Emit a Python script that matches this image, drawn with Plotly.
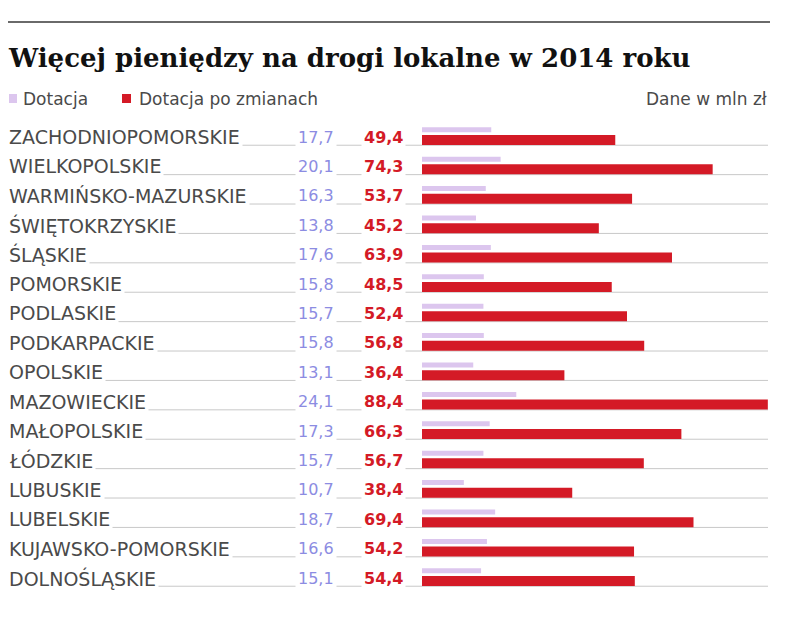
import plotly.graph_objects as go

# Województwa, values in mln zł
regions = [
    "ZACHODNIOPOMORSKIE", "WIELKOPOLSKIE", "WARMIŃSKO-MAZURSKIE", "ŚWIĘTOKRZYSKIE",
    "ŚLĄSKIE", "POMORSKIE", "PODLASKIE", "PODKARPACKIE", "OPOLSKIE", "MAZOWIECKIE",
    "MAŁOPOLSKIE", "ŁÓDZKIE", "LUBUSKIE", "LUBELSKIE", "KUJAWSKO-POMORSKIE", "DOLNOŚLĄSKIE",
]
dotacja = [17.7, 20.1, 16.3, 13.8, 17.6, 15.8, 15.7, 15.8, 13.1, 24.1, 17.3, 15.7, 10.7, 18.7, 16.6, 15.1]
dotacja_po_zmianach = [49.4, 74.3, 53.7, 45.2, 63.9, 48.5, 52.4, 56.8, 36.4, 88.4, 66.3, 56.7, 38.4, 69.4, 54.2, 54.4]

W, H = 805, 619
RED = "#d41a26"
LIGHT = "#dcc6ee"
BLUE_TXT = "#8c8ce2"
GREY_TXT = "#4a4a4a"

rows = list(range(len(regions)))


def px(x):
    return x / W


def py(y):
    return 1 - y / H


def fmt(v):
    return f"{v:.1f}".replace(".", ",")


fig = go.Figure()
fig.add_trace(go.Bar(
    x=dotacja, y=rows, orientation="h", name="Dotacja",
    marker=dict(color=LIGHT, line=dict(width=0)),
    width=0.17, offset=-0.33, hoverinfo="skip",
))
fig.add_trace(go.Bar(
    x=dotacja_po_zmianach, y=rows, orientation="h", name="Dotacja po zmianach",
    marker=dict(color=RED, line=dict(width=0)),
    width=0.34, offset=-0.07, hoverinfo="skip",
))

shapes = [
    # rule above the title
    dict(type="line", xref="paper", yref="paper", x0=px(8), x1=px(770), y0=py(22), y1=py(22),
         line=dict(color="#6a6a6a", width=2)),
    # legend swatches
    dict(type="rect", xref="paper", yref="paper", x0=px(9), x1=px(17), y0=py(103), y1=py(94),
         fillcolor=LIGHT, line=dict(width=0)),
    dict(type="rect", xref="paper", yref="paper", x0=px(122), x1=px(131), y0=py(103), y1=py(94),
         fillcolor=RED, line=dict(width=0)),
]
annotations = [
    dict(text="<b>Więcej pieniędzy na drogi lokalne w 2014 roku</b>", xref="paper", yref="paper",
         x=px(6), y=py(58), xanchor="left", yanchor="middle", showarrow=False,
         font=dict(family="DejaVu Serif", size=26, color="#111111")),
    dict(text="Dotacja", xref="paper", yref="paper", x=px(21), y=py(99), xanchor="left",
         yanchor="middle", showarrow=False, font=dict(family="DejaVu Sans", size=17, color=GREY_TXT)),
    dict(text="Dotacja po zmianach", xref="paper", yref="paper", x=px(137), y=py(99), xanchor="left",
         yanchor="middle", showarrow=False, font=dict(family="DejaVu Sans", size=17, color=GREY_TXT)),
    dict(text="Dane w mln zł", xref="paper", yref="paper", x=px(769), y=py(99), xanchor="right",
         yanchor="middle", showarrow=False, font=dict(family="DejaVu Sans", size=17, color=GREY_TXT)),
]

for i, name in enumerate(regions):
    # leader line under each row
    shapes.append(dict(type="line", xref="paper", yref="y", x0=px(8), x1=px(768),
                       y0=i + 0.28, y1=i + 0.28, layer="below",
                       line=dict(color="#c8c8c8", width=1)))
    annotations.append(dict(text=name, xref="paper", yref="y", x=px(6), y=i, xanchor="left",
                            yanchor="middle", showarrow=False, bgcolor="white", borderpad=2,
                            font=dict(family="DejaVu Sans", size=19, color=GREY_TXT)))
    annotations.append(dict(text=fmt(dotacja[i]), xref="paper", yref="y", x=px(337), y=i,
                            xanchor="right", yanchor="middle", showarrow=False, bgcolor="white",
                            borderpad=2, font=dict(family="DejaVu Sans", size=16, color=BLUE_TXT)))
    annotations.append(dict(text="<b>" + fmt(dotacja_po_zmianach[i]) + "</b>", xref="paper", yref="y",
                            x=px(406), y=i, xanchor="right", yanchor="middle", showarrow=False,
                            bgcolor="white", borderpad=2,
                            font=dict(family="DejaVu Sans", size=16, color=RED)))

fig.update_layout(
    width=W, height=H, margin=dict(l=0, r=0, t=0, b=0),
    paper_bgcolor="white", plot_bgcolor="rgba(0,0,0,0)",
    showlegend=False, barmode="overlay",
    xaxis=dict(domain=[px(422), 1.0], range=[0, 97.9], visible=False, fixedrange=True),
    yaxis=dict(domain=[0, 1], range=[(H - 137) / 29.4, -137 / 29.4], visible=False, fixedrange=True),
    shapes=shapes, annotations=annotations,
)

fig.write_html("out.html")
